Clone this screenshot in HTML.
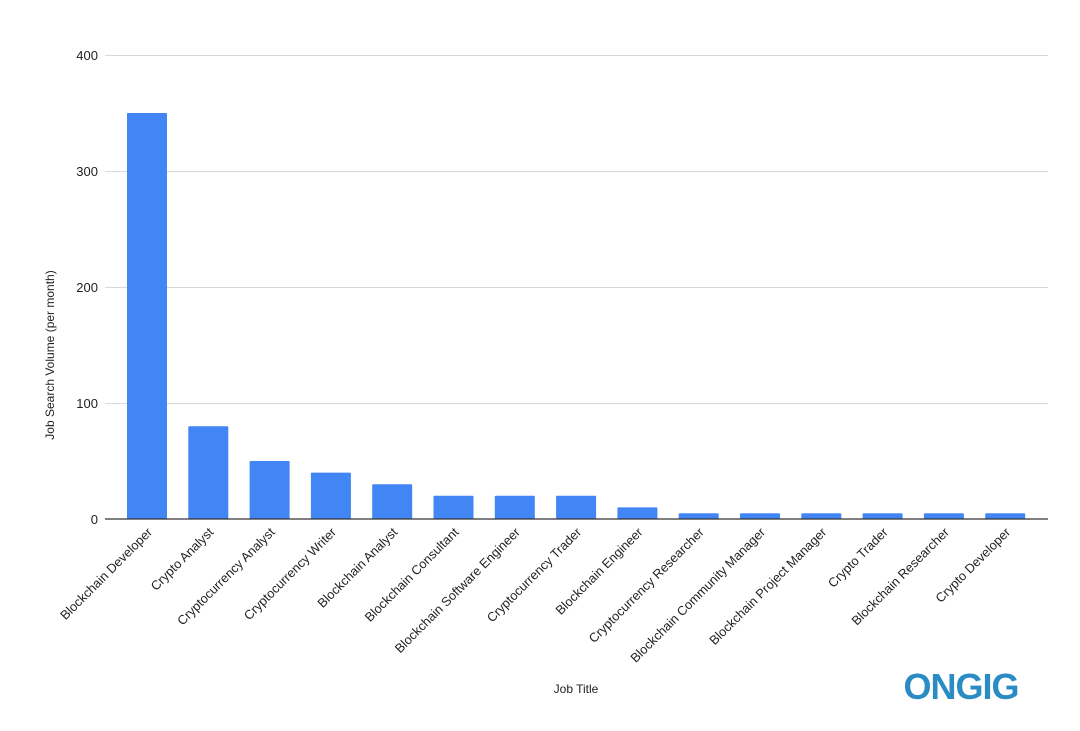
<!DOCTYPE html>
<html><head><meta charset="utf-8"><style>body{margin:0;background:#fff}svg{display:block}text{font-family:"Liberation Sans",Arial,sans-serif;fill:#222}</style></head>
<body>
<svg width="1080" height="731" xmlns="http://www.w3.org/2000/svg">
<g stroke="#d9d9d9" stroke-width="1">
<line x1="105" x2="1048" y1="55.5" y2="55.5"/><line x1="105" x2="1048" y1="171.5" y2="171.5"/><line x1="105" x2="1048" y1="287.5" y2="287.5"/><line x1="105" x2="1048" y1="403.5" y2="403.5"/>
</g>
<g font-size="13" text-anchor="end">
<text x="98" y="60">400</text><text x="98" y="176">300</text><text x="98" y="292">200</text><text x="98" y="408">100</text><text x="98" y="524">0</text>
</g>
<g fill="#4285f4" id="bars"></g>
<line x1="105" x2="1048" y1="519" y2="519" stroke="#333" stroke-width="1.3"/>
<g id="labels" font-size="12.8" text-anchor="end"></g>
<text transform="translate(54,355) rotate(-90)" font-size="12" text-anchor="middle">Job Search Volume (per month)</text>
<text x="576" y="693" font-size="12" text-anchor="middle">Job Title</text>
<text x="961" y="699" font-size="36" font-weight="bold" text-anchor="middle" style="fill:#2b8cc4;letter-spacing:-1px">ONGIG</text>
</svg>
<script>
var v=[350,80,50,40,30,20,20,20,10,5,5,5,5,5,5];
var n=["Blockchain Developer","Crypto Analyst","Cryptocurrency Analyst","Cryptocurrency Writer","Blockchain Analyst","Blockchain Consultant","Blockchain Software Engineer","Cryptocurrency Trader","Blockchain Engineer","Cryptocurrency Researcher","Blockchain Community Manager","Blockchain Project Manager","Crypto Trader","Blockchain Researcher","Crypto Developer"];
var b=document.getElementById("bars"),l=document.getElementById("labels"),s="",t="";
for(var i=0;i<15;i++){var c=147+61.3*i,h=v[i]*1.16;
s+='<rect x="'+(c-20)+'" y="'+(519-h)+'" width="40" height="'+h+'" rx="1"/>';
t+='<text transform="translate('+(c+6)+',533) rotate(-45)">'+n[i]+'</text>';}
b.innerHTML=s;l.innerHTML=t;
</script>
</body></html>
